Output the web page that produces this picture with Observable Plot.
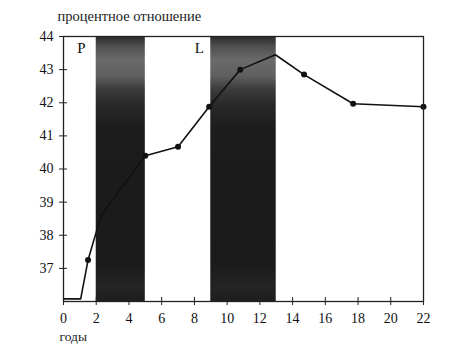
<!DOCTYPE html>
<html><head><meta charset="utf-8">
<script src="https://cdn.jsdelivr.net/npm/d3@7"></script>
<script src="https://cdn.jsdelivr.net/npm/@observablehq/plot@0.6"></script>
<style>body{margin:0;background:#fff;} svg{font-family:"Liberation Serif","DejaVu Serif",serif;}</style>
</head><body>
<div id="chart"></div>
<script>
const years = [0, 1.05, 1.5, 2.3, 5.0, 7.0, 8.9, 10.8, 12.95, 14.7, 17.7, 22];
const percent = [36.08, 36.08, 37.25, 38.6, 40.4, 40.67, 41.88, 43.0, 43.45, 42.85, 41.97, 41.88];
const dotted = [false, false, true, false, true, true, true, true, false, true, true, true];
const bandNames = ["P", "L"];
const bandStart = [2, 9];
const bandEnd = [5, 13];
const xTicks = [0, 2, 4, 6, 8, 10, 12, 14, 16, 18, 20, 22];
const yTicks = [37, 38, 39, 40, 41, 42, 43, 44];

const series = years.map((x, i) => ({x, y: percent[i], dot: dotted[i]}));
const bands = bandNames.map((n, i) => ({n, x1: bandStart[i], x2: bandEnd[i]}));

const chart = Plot.plot({
  width: 450, height: 361,
  marginLeft: 63, marginRight: 27, marginTop: 36, marginBottom: 60,
  style: {fontFamily: "Liberation Serif, DejaVu Serif, serif", background: "#fff", color: "#111"},
  x: {domain: [0, 22], ticks: xTicks, label: null},
  y: {domain: [36, 44], ticks: yTicks, label: null},
  marks: [
    Plot.rectY(bands, {x1: "x1", x2: "x2", y1: 36, y2: 44, fill: "#1a1a1a", className: "band"}),
    Plot.line(series, {x: "x", y: "y", stroke: "#111", strokeWidth: 1.6}),
    Plot.dot(series.filter(d => d.dot), {x: "x", y: "y", r: 3, fill: "#111", stroke: "none"}),
    Plot.frame({stroke: "#222", strokeWidth: 1.3}),
    Plot.axisX({ticks: xTicks, tickSize: 4, tickPadding: 8, fontSize: 14, stroke: "#222"}),
    Plot.axisX({ticks: xTicks, tickSize: -4, tickFormat: () => "", stroke: "#222"}),
    Plot.axisY({ticks: yTicks, tickSize: 4, tickPadding: 6, fontSize: 14, stroke: "#222"}),
    Plot.axisY({ticks: yTicks, tickSize: -4, tickFormat: () => "", stroke: "#222"}),
    Plot.text(bands, {x: d => d.n === "P" ? 1.1 : 8.3, y: 43.65, text: "n", fontSize: 15, fill: "#111"}),
    Plot.text(["процентное отношение"], {frameAnchor: "top-left", dx: -6, dy: -26, text: d => d, fontSize: 14.5, fill: "#222", textAnchor: "start"}),
    Plot.text(["годы"], {frameAnchor: "bottom-left", dx: -4, dy: 39, text: d => d, fontSize: 13.5, fill: "#222", textAnchor: "start"})
  ]
});

const svg = d3.select(chart);
const defs = svg.insert("defs", ":first-child");
const g = defs.append("linearGradient").attr("id", "bandgrad").attr("x1", 0).attr("y1", 0).attr("x2", 0).attr("y2", 1);
[[0, "#2a2a2a"], [0.04, "#505050"], [0.09, "#6a6a6a"], [0.15, "#606060"], [0.2, "#3c3c3c"], [0.26, "#282828"], [0.35, "#1c1c1c"], [0.85, "#1a1a1a"], [0.95, "#242424"], [1, "#1e1e1e"]]
  .forEach(([o, c]) => g.append("stop").attr("offset", o).attr("stop-color", c));
svg.selectAll("g.band rect, .band rect").attr("fill", "url(#bandgrad)");
document.getElementById("chart").append(chart);
</script>
</body></html>
